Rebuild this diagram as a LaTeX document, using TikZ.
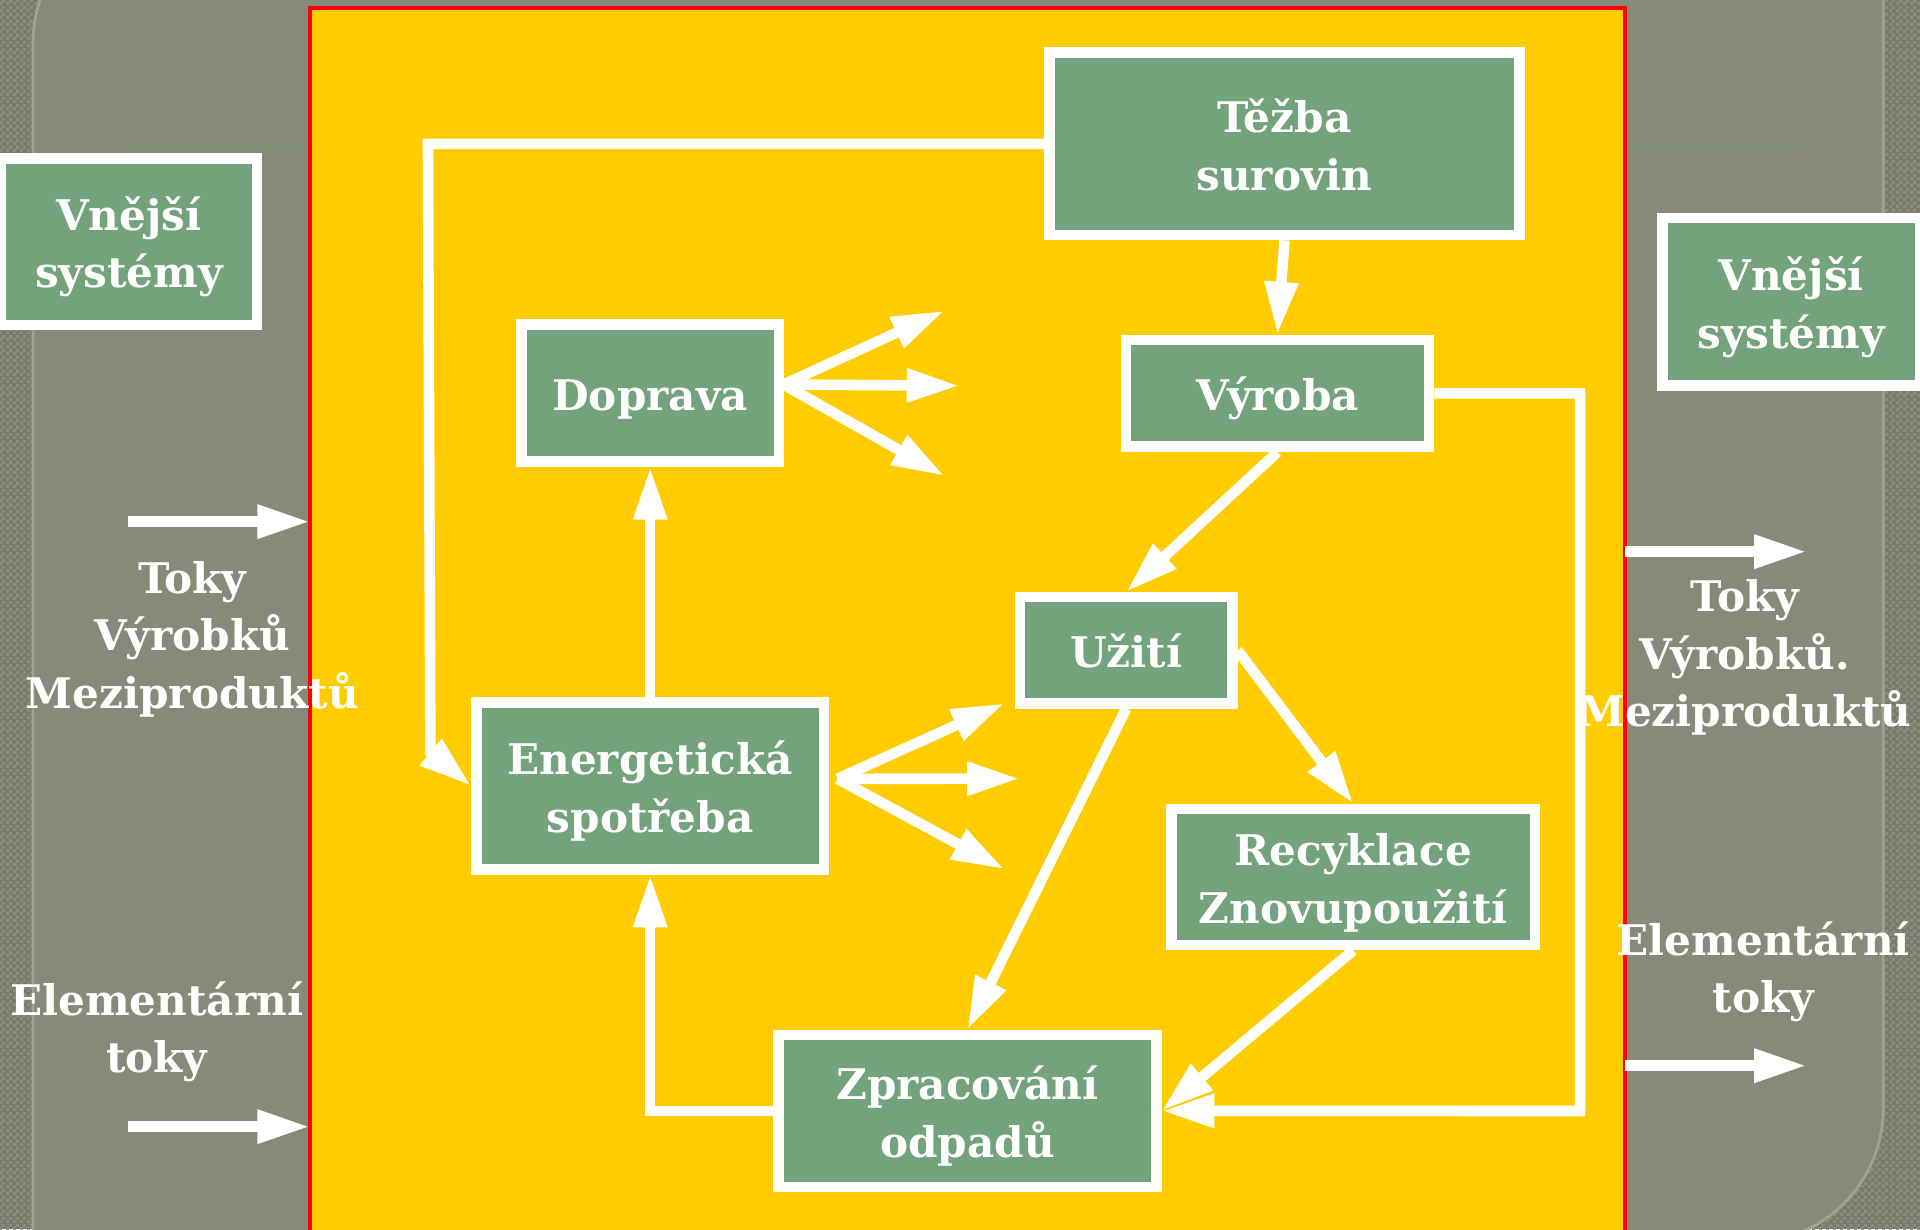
\documentclass[tikz,border=0pt]{standalone}
\usepackage{fontspec}
\setmainfont{DejaVu Serif}
\usetikzlibrary{arrows.meta, patterns}
\definecolor{bggray}{RGB}{135,138,121}
\definecolor{texgray}{RGB}{120,123,108}
\definecolor{texlight}{RGB}{138,141,124}
\definecolor{edgegray}{RGB}{160,163,146}
\definecolor{boxgreen}{RGB}{114,163,122}
\definecolor{linegreen}{RGB}{104,160,116}
\definecolor{sunyellow}{RGB}{255,204,0}
\newcommand{\spx}{0.012245cm}
\pgfdeclarepatternformonly{finechecks}{\pgfpointorigin}{\pgfqpoint{2pt}{2pt}}{\pgfqpoint{2pt}{2pt}}{%
  \pgfpathrectangle{\pgfpointorigin}{\pgfqpoint{1pt}{1pt}}%
  \pgfpathrectangle{\pgfqpoint{1pt}{1pt}}{\pgfqpoint{1pt}{1pt}}%
  \pgfusepath{fill}}

\begin{document}
\begin{tikzpicture}[x=\spx, y=-\spx,
  every node/.style={font=\bfseries\fontsize{12}{16.3}\selectfont, text=white, align=center},
  % argument: height kept above the last baseline (13.5pt per one line, +16.3pt per extra line)
  box/.style={draw=white, line width=3pt, fill=boxgreen, inner sep=0pt,
    execute at begin node={\rule{0pt}{#1}},
    execute at end node={\rule[-3.5pt]{0pt}{3.5pt}}},
  box/.default=13.5pt,
  flow/.style={draw=white, line width=3pt, -{Triangle[length=15pt, width=9pt]}}]

  \useasboundingbox (0,0) rectangle (1568,1004);
  \clip (0,0) rectangle (1568,1004);

  % textured frame
  \fill[texgray] (0,0) rectangle (1568,1004);
  \fill[pattern=finechecks, pattern color=texlight] (0,0) rectangle (1568,1004);

  % slide panel
  \filldraw[fill=bggray, draw=edgegray, line width=0.8pt] (27,1015) -- (27,35)
    .. controls (27,-25.75) and (76.25,-75) .. (137,-75) -- (1538,-75) -- (1538,905)
    .. controls (1538,965.75) and (1488.75,1015) .. (1428,1015) -- cycle;

  % thin green rules
  \draw[linegreen, line width=0.6pt] (100,120) -- (252,120);
  \draw[linegreen, line width=0.6pt] (1329,120) -- (1472,120);

  % system area
  \draw[red, line width=1.15pt, fill=sunyellow] (253.4,6.4) rectangle (1327.3,1030);

  % boxes
  \node[box=29.8pt, minimum width=383.5*\spx, minimum height=149*\spx] (tezba) at (1049,117.5) {Těžba\\surovin};
  \node[box, minimum width=210*\spx, minimum height=112*\spx] (doprava) at (531,321) {Doprava};
  \node[box, minimum width=247.5*\spx, minimum height=87.3*\spx] (vyroba) at (1043.3,321.2) {Výroba};
  \node[box, minimum width=173.4*\spx, minimum height=86.8*\spx] (uziti) at (919.7,531.1) {Užití};
  \node[box=29.8pt, minimum width=284*\spx, minimum height=136.5*\spx] (energ) at (531,641.75) {Energetická\\spotřeba};
  \node[box=29.8pt, minimum width=297*\spx, minimum height=111.2*\spx] (recykl) at (1105.1,716.2) {Recyklace\\Znovupoužití};
  \node[box=29.8pt, minimum width=308.6*\spx, minimum height=124*\spx] (zprac) at (790,907.2) {Zpracování\\odpadů};
  \node[box=29.8pt, minimum width=209.7*\spx, minimum height=135.7*\spx] (extL) at (105.2,197.4) {Vnější\\systémy};
  \node[box=29.8pt, minimum width=210.5*\spx, minimum height=136.8*\spx] (extR) at (1462.8,246.6) {Vnější\\systémy};

  % turning points and free ends
  \coordinate (loopA) at (349.5,117.5);
  \coordinate (loopB) at (351.5,614);
  \coordinate (rloop) at (1290.4,907.3);
  \coordinate (dfan) at (640,314);
  \coordinate (dfan1) at (771.4,253.7);
  \coordinate (dfan2) at (783.6,315);
  \coordinate (dfan3) at (771.4,388.7);
  \coordinate (efan) at (684,636);
  \coordinate (efan1) at (820.3,574.4);
  \coordinate (efan2) at (832.8,635.9);
  \coordinate (efan3) at (820.3,709.9);
  \coordinate (inA) at (104.8,426);
  \coordinate (inAend) at (253.2,426);
  \coordinate (inB) at (104.8,920.1);
  \coordinate (inBend) at (253.2,920.1);
  \coordinate (outA) at (1327,450.5);
  \coordinate (outAend) at (1475.5,450.5);
  \coordinate (outB) at (1327,870.3);
  \coordinate (outBend) at (1475.5,870.3);

  % flows inside
  \draw[flow] (tezba.west) -- (loopA) -- (loopB) -- (energ.west);
  \draw[flow] (tezba.south) -- (vyroba.north);
  \draw[flow] (vyroba.south) -- (uziti.north);
  \draw[flow] (vyroba.east) -| (rloop) -- (zprac.east);
  \draw[flow] (uziti.east) -- (recykl.north);
  \draw[flow] (uziti.south) -- (zprac.north);
  \draw[flow] (recykl.south) -- (zprac.east);
  \draw[flow] (zprac.west) -| (energ.south);
  \draw[flow] (energ.north) -- (doprava.south);

  % fans
  \draw[flow] (dfan) -- (dfan1);
  \draw[flow] (dfan) -- (dfan2);
  \draw[flow] (dfan) -- (dfan3);
  \draw[flow] (efan) -- (efan1);
  \draw[flow] (efan) -- (efan2);
  \draw[flow] (efan) -- (efan3);

  % flows across the border
  \draw[flow] (inA) -- (inAend);
  \draw[flow] (inB) -- (inBend);
  \draw[flow] (outA) -- (outAend);
  \draw[flow] (outB) -- (outBend);

  % side labels
  \node (tokyL) at (157,522) {Toky\\Výrobků\\Meziproduktů};
  \node (elemL) at (128,842.8) {Elementární\\toky};
  \node (tokyR) at (1425,537) {Toky\\Výrobků.\\Meziproduktů};
  \node (elemR) at (1440,793.8) {Elementární\\toky};
\end{tikzpicture}
\end{document}
